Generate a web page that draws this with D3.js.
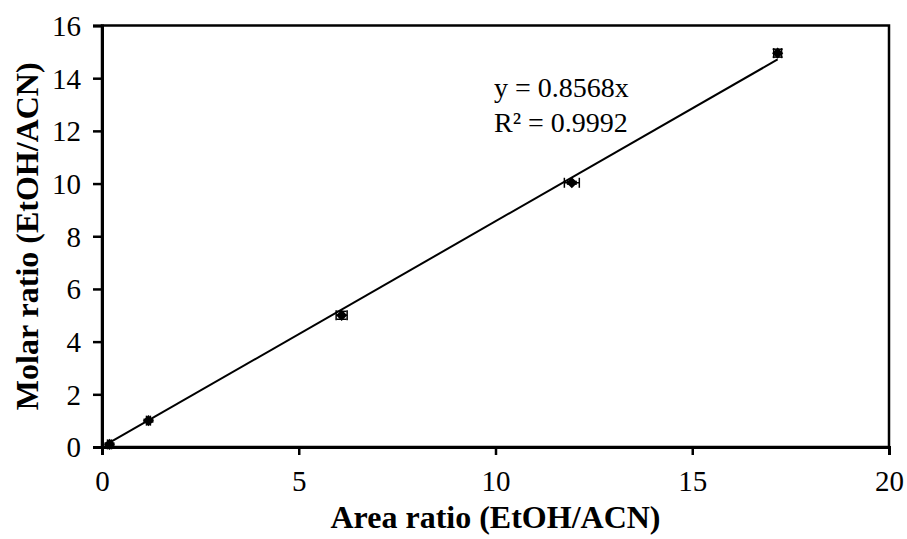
<!DOCTYPE html>
<html>
<head>
<meta charset="utf-8">
<script src="https://cdn.jsdelivr.net/npm/d3@7/dist/d3.min.js"></script>
<style>
  html, body { margin: 0; padding: 0; background: #fff; }
  svg { display: block; }
  svg text { font-family: "Liberation Serif", "Times New Roman", "DejaVu Serif", serif; fill: #000; }
</style>
</head>
<body>
<svg id="chart" width="907" height="539"></svg>
<script>
// Calibration points: area ratio vs molar ratio (EtOH/ACN)
const areaRatio  = [0.19, 1.18, 6.09, 11.94, 17.17];
const molarRatio = [0.10, 1.00, 5.00, 10.03, 14.95];
const areaErr    = [0.05, 0.05, 0.14, 0.19, 0.10];
const molarErr   = [0.05, 0.05, 0.15, 0.05, 0.15];

// Fitted line through the origin
const slope = 0.8568;
const rSquared = 0.9992;

const xTicks = [0, 5, 10, 15, 20];
const yTicks = [0, 2, 4, 6, 8, 10, 12, 14, 16];

const serif = '"Liberation Serif", "Times New Roman", "DejaVu Serif", serif';
const margin = { left: 102, right: 18, top: 25.5, bottom: 92 };
const W = 907, H = 539;
const svg = d3.select("#chart");

const x = d3.scaleLinear().domain([0, 20]).range([margin.left, W - margin.right]);
const y = d3.scaleLinear().domain([0, 16]).range([H - margin.bottom, margin.top]);

// Plot frame (top and right edges)
svg.append("rect")
  .attr("x", x(0)).attr("y", y(16))
  .attr("width", x(20) - x(0)).attr("height", y(0) - y(16))
  .attr("fill", "none").attr("stroke", "#000").attr("stroke-width", 2.5);

// Axes
const xAxis = svg.append("g")
  .attr("transform", `translate(0,${y(0)})`)
  .call(d3.axisBottom(x).tickValues(xTicks).tickSize(8).tickPadding(15).tickFormat(d3.format("d")));
const yAxis = svg.append("g")
  .attr("transform", `translate(${x(0)},0)`)
  .call(d3.axisLeft(y).tickValues(yTicks).tickSize(9).tickPadding(12).tickFormat(d3.format("d")));

[xAxis, yAxis].forEach(g => {
  g.attr("font-family", serif).attr("font-size", 29);
  g.select(".domain").attr("stroke", "#000").attr("stroke-width", 3);
  g.selectAll(".tick line").attr("stroke", "#000").attr("stroke-width", 2.5);
  g.selectAll(".tick text").attr("fill", "#000");
});
yAxis.selectAll(".tick text").attr("dy", "0.34em");

// Trend line over the data range
const x0 = d3.min(areaRatio), x1 = d3.max(areaRatio);
svg.append("line")
  .attr("x1", x(x0)).attr("y1", y(slope * x0))
  .attr("x2", x(x1)).attr("y2", y(slope * x1))
  .attr("stroke", "#000").attr("stroke-width", 2);

// Error bars
const pts = areaRatio.map((a, i) => ({ a, m: molarRatio[i], ea: areaErr[i], em: molarErr[i] }));
const eb = svg.append("g").attr("stroke", "#000").attr("stroke-width", 1.5);
const cap = 5;
pts.forEach(p => {
  eb.append("line").attr("x1", x(p.a - p.ea)).attr("x2", x(p.a + p.ea)).attr("y1", y(p.m)).attr("y2", y(p.m));
  eb.append("line").attr("x1", x(p.a - p.ea)).attr("x2", x(p.a - p.ea)).attr("y1", y(p.m) - cap).attr("y2", y(p.m) + cap);
  eb.append("line").attr("x1", x(p.a + p.ea)).attr("x2", x(p.a + p.ea)).attr("y1", y(p.m) - cap).attr("y2", y(p.m) + cap);
  eb.append("line").attr("x1", x(p.a)).attr("x2", x(p.a)).attr("y1", y(p.m - p.em)).attr("y2", y(p.m + p.em));
  eb.append("line").attr("x1", x(p.a) - cap).attr("x2", x(p.a) + cap).attr("y1", y(p.m - p.em)).attr("y2", y(p.m - p.em));
  eb.append("line").attr("x1", x(p.a) - cap).attr("x2", x(p.a) + cap).attr("y1", y(p.m + p.em)).attr("y2", y(p.m + p.em));
});

// Diamond markers
svg.append("g").selectAll("path").data(pts).join("path")
  .attr("d", d3.symbol().type(d3.symbolDiamond2).size(80))
  .attr("transform", p => `translate(${x(p.a)},${y(p.m)})`)
  .attr("fill", "#000");

// Equation label
const eq = svg.append("text")
  .attr("x", 494).attr("y", 97)
  .attr("font-family", serif).attr("font-size", 28);
eq.append("tspan").attr("x", 494).text(`y = ${slope}x`);
eq.append("tspan").attr("x", 494).attr("dy", 35).text(`R² = ${rSquared}`);

// Axis titles
svg.append("text")
  .attr("x", (x(0) + x(20)) / 2).attr("y", 528)
  .attr("text-anchor", "middle")
  .attr("font-family", serif).attr("font-size", 32).attr("font-weight", "bold")
  .text("Area ratio (EtOH/ACN)");

svg.append("text")
  .attr("transform", `translate(38,${(y(0) + y(16)) / 2}) rotate(-90)`)
  .attr("text-anchor", "middle")
  .attr("font-family", serif).attr("font-size", 32).attr("font-weight", "bold")
  .text("Molar ratio (EtOH/ACN)");
</script>
</body>
</html>
